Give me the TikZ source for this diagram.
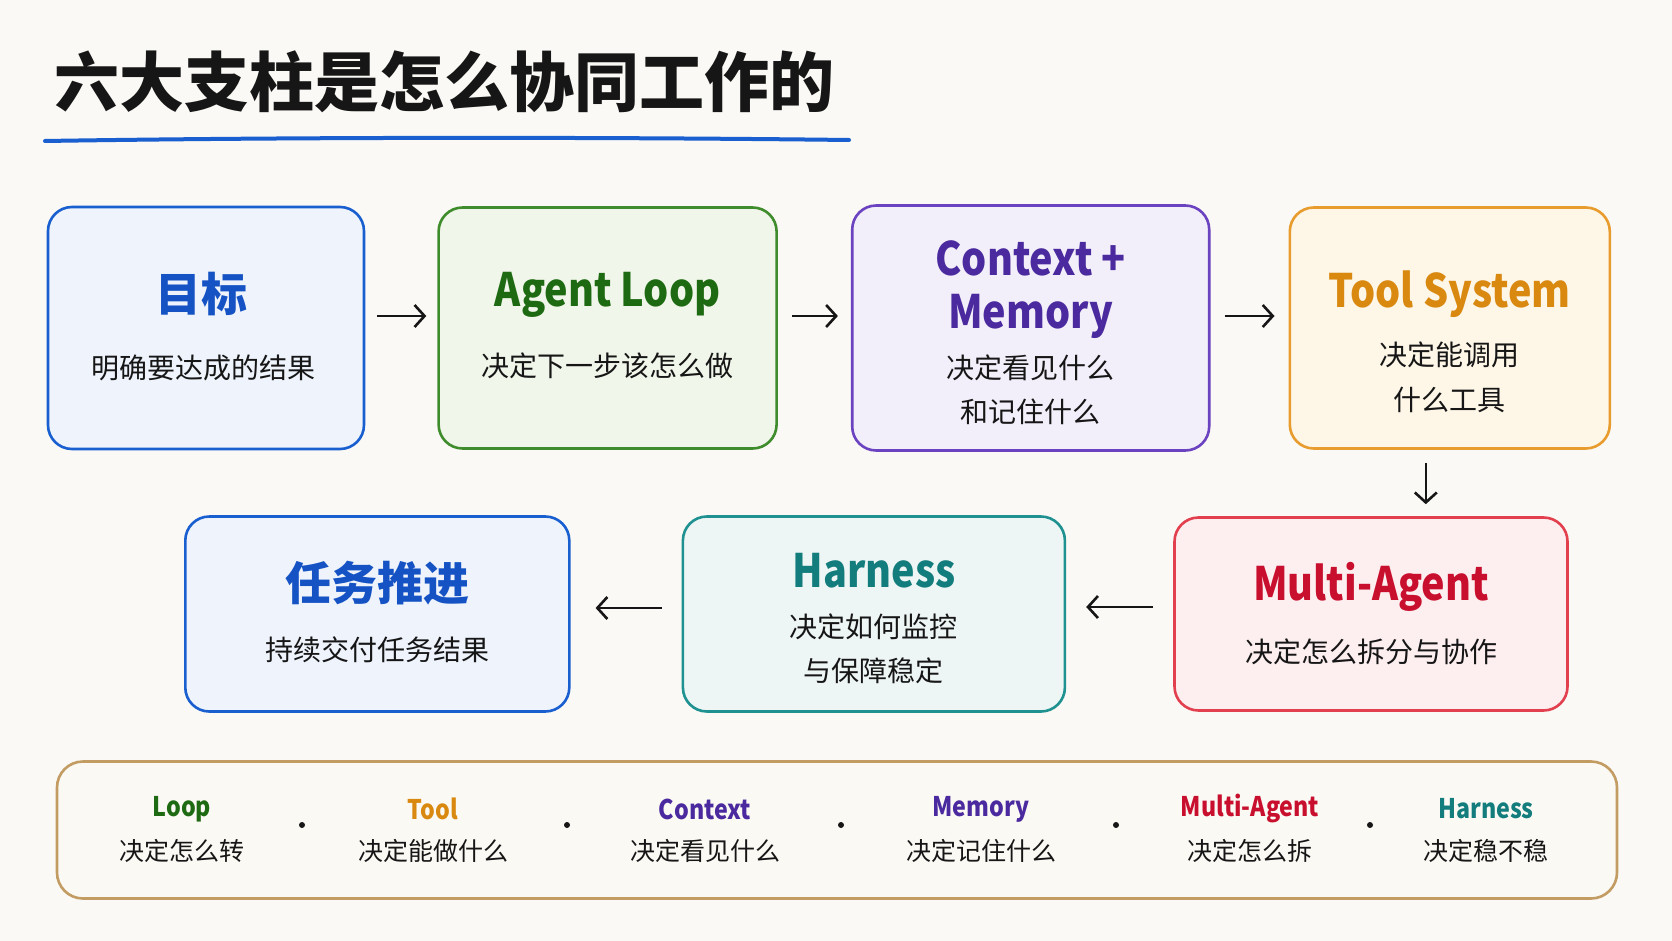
\documentclass[tikz,border=0pt]{standalone}
\usepackage{fontspec}
\setmainfont{Noto Sans CJK SC}
\newfontfamily\condsans{Noto Sans CJK SC}[FakeStretch=0.86]
\usetikzlibrary{arrows.meta, positioning, calc}

\definecolor{paper}{HTML}{FAF9F5}
\definecolor{inkblack}{HTML}{161616}
\definecolor{goalblue}{HTML}{1A5FD0}
\definecolor{goalfill}{HTML}{EEF3FC}
\definecolor{goaltext}{HTML}{1553C4}
\definecolor{loopgreen}{HTML}{3F8C2C}
\definecolor{loopfill}{HTML}{F1F6EA}
\definecolor{looptext}{HTML}{1E6A12}
\definecolor{ctxpurple}{HTML}{6B42C0}
\definecolor{ctxfill}{HTML}{F3EFFA}
\definecolor{ctxtext}{HTML}{4A2A9E}
\definecolor{toolorange}{HTML}{E99C2E}
\definecolor{toolfill}{HTML}{FEF6E7}
\definecolor{tooltext}{HTML}{D98910}
\definecolor{harnteal}{HTML}{1F9191}
\definecolor{harnfill}{HTML}{EEF6F5}
\definecolor{harntext}{HTML}{137C7C}
\definecolor{multired}{HTML}{E2404F}
\definecolor{multifill}{HTML}{FDEEF0}
\definecolor{multitext}{HTML}{C8102E}
\definecolor{bartan}{HTML}{C29C62}
\definecolor{barfill}{HTML}{FBF9F4}

\tikzset{
    pillar/.style={rectangle, draw, line width=2.6pt, rounded corners=24pt, inner sep=0pt},
    headtxt/.style={font=\fontsize{46}{52}\selectfont\bfseries, inner sep=0pt},
    latinhead/.style={font=\condsans\fontsize{46}{52}\selectfont\bfseries, inner sep=0pt},
    subtxt/.style={font=\fontsize{28}{34}\selectfont, text=inkblack, inner sep=0pt},
    keytxt/.style={font=\condsans\fontsize{27}{30}\selectfont\bfseries, inner sep=0pt},
    keysub/.style={font=\fontsize{25}{30}\selectfont, text=inkblack, inner sep=0pt},
    dot/.style={circle, fill=inkblack, inner sep=0pt, minimum size=6pt},
    arrow/.style={-{Straight Barb[length=10pt, width=22pt, line width=2.6pt]}, line width=2.6pt, inkblack},
}

\begin{document}
\begin{tikzpicture}[x=1pt, y=-1pt]

\useasboundingbox[fill=paper] (0,0) rectangle (1672,941);

% Title
\node[font=\fontsize{65}{70}\selectfont\bfseries, text=inkblack, inner sep=0pt] (title) at (444,82) {六大支柱是怎么协同工作的};
\draw[goalblue, line width=4pt, line cap=round] (45,141) .. controls (300,137) and (600,137) .. (849,140);

% First row
\node[pillar, draw=goalblue, fill=goalfill, minimum width=316pt, minimum height=242pt] (goal) at (206,328) {};
\node[pillar, draw=loopgreen, fill=loopfill, minimum width=338pt, minimum height=241pt, right=72pt of goal] (loop) {};
\node[pillar, draw=ctxpurple, fill=ctxfill, minimum width=357pt, minimum height=245pt, right=73pt of loop] (ctx) {};
\node[pillar, draw=toolorange, fill=toolfill, minimum width=320pt, minimum height=241pt, right=78pt of ctx] (tool) {};

% Second row
\node[pillar, draw=multired, fill=multifill, minimum width=393pt, minimum height=193pt] (multi) at (1371,614) {};
\node[pillar, draw=harnteal, fill=harnfill, minimum width=382pt, minimum height=195pt, left=107pt of multi] (harn) {};
\node[pillar, draw=goalblue, fill=goalfill, minimum width=384pt, minimum height=195pt, left=111pt of harn] (push) {};

% Box texts
\node[headtxt, text=goaltext] (goalhead) at ($(goal)+(-5,-34)$) {目标};
\node[subtxt] (goalsub) at ($(goal)+(-3,40)$) {明确要达成的结果};

\node[latinhead, text=looptext] (loophead) at ($(loop)+(0,-33)$) {Agent Loop};
\node[subtxt] (loopsub) at ($(loop)+(0,38)$) {决定下一步该怎么做};

\node[latinhead, text=ctxtext] (ctxhead) at ($(ctx)+(0,-70)$) {Context +};
\node[latinhead, text=ctxtext] (ctxhead2) at ($(ctx)+(0,-12)$) {Memory};
\node[subtxt] (ctxsub) at ($(ctx)+(0,40)$) {决定看见什么};
\node[subtxt] (ctxsub2) at ($(ctx)+(0,84)$) {和记住什么};

\node[latinhead, text=tooltext] (toolhead) at ($(tool)+(0,-34)$) {Tool System};
\node[subtxt] (toolsub) at ($(tool)+(0,27)$) {决定能调用};
\node[subtxt] (toolsub2) at ($(tool)+(0,72)$) {什么工具};

\node[latinhead, text=multitext] (multihead) at ($(multi)+(0,-27)$) {Multi-Agent};
\node[subtxt] (multisub) at ($(multi)+(0,38)$) {决定怎么拆分与协作};

\node[latinhead, text=harntext] (harnhead) at ($(harn)+(0,-43)$) {Harness};
\node[subtxt] (harnsub) at ($(harn)+(0,13)$) {决定如何监控};
\node[subtxt] (harnsub2) at ($(harn)+(0,57)$) {与保障稳定};

\node[headtxt, text=goaltext] (pushhead) at ($(push)+(0,-31)$) {任务推进};
\node[subtxt] (pushsub) at ($(push)+(0,36)$) {持续交付任务结果};

% Arrows
\draw[arrow, shorten <=12pt, shorten >=11pt] ([yshift=12pt]goal.east) -- ([yshift=12pt]goal.east -| loop.west);
\draw[arrow, shorten <=14pt, shorten >=13pt] ([yshift=12pt]loop.east) -- ([yshift=12pt]loop.east -| ctx.west);
\draw[arrow, shorten <=14pt, shorten >=14pt] ([yshift=12pt]ctx.east) -- ([yshift=12pt]ctx.east -| tool.west);
\draw[arrow, shorten <=13pt, shorten >=12pt] ([xshift=-24pt]tool.south) -- ([xshift=-24pt]tool.south |- multi.north);
\draw[arrow, shorten <=20pt, shorten >=20pt] ([yshift=7pt]multi.west) -- ([yshift=7pt]multi.west -| harn.east);
\draw[arrow, shorten <=20pt, shorten >=25pt] ([yshift=6pt]harn.west) -- ([yshift=6pt]harn.west -| push.east);

% Summary bar
\node[rectangle, draw=bartan, fill=barfill, line width=2.6pt, rounded corners=26pt, minimum width=1560pt, minimum height=137pt] (bar) at (837,830) {};

\node[keytxt, text=looptext] (keyloop) at (182,809) {Loop};
\node[keysub] (keyloopsub) at (182,851) {决定怎么转};
\node[dot] (dotA) at (302,825) {};
\node[keytxt, text=tooltext] (keytool) at (433,809) {Tool};
\node[keysub] (keytoolsub) at (433,851) {决定能做什么};
\node[dot] (dotB) at (567,825) {};
\node[keytxt, text=ctxtext] (keyctx) at (705,809) {Context};
\node[keysub] (keyctxsub) at (705,851) {决定看见什么};
\node[dot] (dotC) at (841,825) {};
\node[keytxt, text=ctxtext] (keymem) at (981,809) {Memory};
\node[keysub] (keymemsub) at (981,851) {决定记住什么};
\node[dot] (dotD) at (1116,825) {};
\node[keytxt, text=multitext] (keymulti) at (1250,809) {Multi-Agent};
\node[keysub] (keymultisub) at (1250,851) {决定怎么拆};
\node[dot] (dotE) at (1370,825) {};
\node[keytxt, text=harntext] (keyharn) at (1486,809) {Harness};
\node[keysub] (keyharnsub) at (1486,851) {决定稳不稳};

\end{tikzpicture}
\end{document}
